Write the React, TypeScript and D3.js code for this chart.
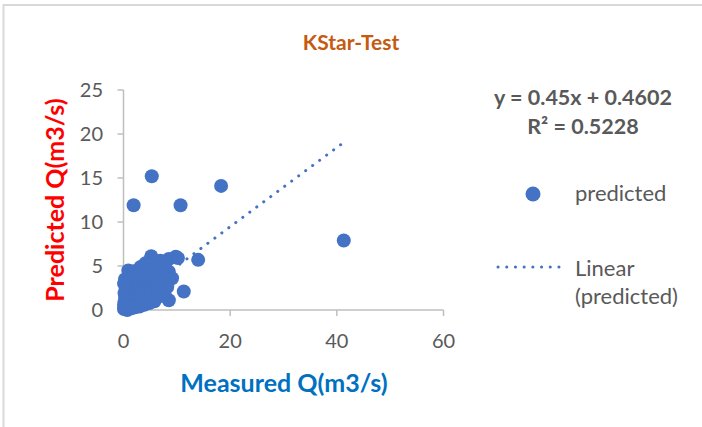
import React from 'react'
import * as d3 from 'd3'

const measured = [
  0.1, 0.2, 0.3, 0.4, 0.5, 0.6, 0.8, 1.0, 0.2, 0.3, 0.5, 0.7, 0.9, 1.2, 1.4, 1.6, 1.8, 2.0, 2.1, 2.3,
  2.6, 2.8, 3.0, 3.2, 3.4, 3.6, 3.8, 4.0, 4.2, 4.4, 4.6, 4.8, 5.0, 5.2, 5.5, 5.8, 6.0, 6.3, 6.6, 7.0,
  7.3, 7.6, 0.6, 0.8, 1.0, 1.1, 1.5, 1.7, 2.0, 2.4, 2.7, 3.1, 3.5, 3.9, 4.3, 4.7, 0.9, 3.2, 5.2, 5.6,
  6.2, 6.8, 7.4, 8.5, 9.8, 8.5, 9.1, 8.2, 7.8, 8.5, 6.5, 5.8, 4.9, 3.9, 3.0, 2.2, 1.5, 0.7, 0.1, 0.2,
  0.4, 0.1, 0.3, 1.3, 1.9, 2.9, 4.1, 4.5, 5.4, 6.1, 7.1, 10.2, 6.9, 7.9,
  5.3, 1.9, 10.7, 18.3, 41.3, 14.0, 11.3,
]
const predicted = [
  0.1, 0.3, 0.2, 0.5, 0.1, 0.4, 0.7, 0.3, 0.9, 1.4, 1.8, 1.1, 2.2, 0.6, 1.2, 0.8, 1.6, 0.9, 2.0, 1.3,
  2.4, 1.0, 1.7, 2.8, 1.4, 2.2, 3.1, 1.8, 2.6, 3.4, 1.5, 2.9, 3.8, 2.2, 3.3, 4.1, 2.6, 3.6, 4.4, 3.0,
  2.1, 3.9, 2.7, 3.2, 3.7, 2.5, 3.0, 3.9, 3.4, 4.2, 3.6, 4.5, 3.9, 4.7, 4.1, 4.8, 4.5, 4.9, 6.1, 5.2,
  5.0, 5.1, 4.7, 5.8, 6.05, 4.35, 3.6, 2.6, 1.6, 1.1, 1.5, 1.0, 0.8, 0.6, 0.4, 0.3, 0.2, 0.0, 0.6, 1.9,
  2.4, 3.0, 3.5, 4.1, 4.4, 4.3, 5.3, 4.4, 4.6, 3.9, 4.2, 5.9, 5.6, 5.4,
  15.2, 11.9, 11.9, 14.1, 7.9, 5.7, 2.1,
]

const xTicks = [0, 20, 40, 60]
const yTicks = [0, 5, 10, 15, 20, 25]
const slope = 0.45
const intercept = 0.4602

const W = 702
const H = 427
const blue = '#4472C4'
const grey = '#595959'
const font = 'Lato, "Open Sans", sans-serif'

const App = () => {
  const x = d3.scaleLinear().domain([0, 60]).range([123.5, 443.5])
  const y = d3.scaleLinear().domain([0, 25]).range([310, 90])

  const points = measured.map((m, i) => ({ m, p: predicted[i] }))
  const xMin = d3.min(measured)
  const xMax = d3.max(measured)
  const trend = d3.line<number>()
    .x((d) => x(d))
    .y((d) => y(slope * d + intercept))([xMin, xMax])

  return (
    <svg width={W} height={H} style={{ position: 'absolute', left: 0, top: 0 }} fontFamily={font}>
      <rect x={0} y={0} width={W} height={H} fill="#fff" />
      <rect x={3.5} y={5} width={W + 10} height={H + 10} fill="none" stroke="#d9d9d9" strokeWidth={2} />

      <text x={351} y={50} textAnchor="middle" fontSize={21} fontWeight="bold" fill="#C55A11">
        KStar-Test
      </text>

      {/* axes */}
      <line x1={x(0)} x2={x(0)} y1={y(25)} y2={y(0)} stroke="#bfbfbf" strokeWidth={1.5} />
      <line x1={x(0)} x2={x(60)} y1={y(0)} y2={y(0)} stroke="#bfbfbf" strokeWidth={1.5} />
      {yTicks.map((t) => (
        <g key={'y' + t}>
          <line x1={x(0) - 6} x2={x(0)} y1={y(t)} y2={y(t)} stroke="#bfbfbf" strokeWidth={1.5} />
          <text x={103} y={y(t)} dy="0.35em" textAnchor="end" fontSize={20} fill={grey}>
            {t}
          </text>
        </g>
      ))}
      {xTicks.map((t) => (
        <g key={'x' + t}>
          <line x1={x(t)} x2={x(t)} y1={y(0)} y2={y(0) + 6} stroke="#bfbfbf" strokeWidth={1.5} />
          <text x={x(t)} y={348} textAnchor="middle" fontSize={20} fill={grey}>
            {t}
          </text>
        </g>
      ))}

      {/* points */}
      {points.map((d, i) => (
        <circle key={i} cx={x(d.m)} cy={y(d.p)} r={7} fill={blue} />
      ))}

      {/* linear trendline */}
      <path d={trend} fill="none" stroke={blue} strokeWidth={3} strokeLinecap="round" strokeDasharray="0.1 8.6" />

      <text x={284} y={392} textAnchor="middle" fontSize={25} fontWeight="bold" fill="#0070C0">
        Measured Q(m3/s)
      </text>
      <text transform="translate(64,200) rotate(-90)" textAnchor="middle" fontSize={25} fontWeight="bold" fill="#FF0000">
        Predicted Q(m3/s)
      </text>

      {/* equation */}
      <text x={583} y={105} textAnchor="middle" fontSize={21.5} fontWeight="bold" fill={grey}>
        y = 0.45x + 0.4602
      </text>
      <text x={583} y={134} textAnchor="middle" fontSize={21.5} fontWeight="bold" fill={grey}>
        R² = 0.5228
      </text>

      {/* legend */}
      <circle cx={533} cy={194} r={7.5} fill={blue} />
      <text x={575} y={201} fontSize={22} fill={grey}>predicted</text>
      <line x1={498} x2={562} y1={267} y2={267} stroke={blue} strokeWidth={3} strokeLinecap="round" strokeDasharray="0.1 8.6" />
      <text x={575} y={276} fontSize={22} fill={grey}>Linear</text>
      <text x={575} y={304} fontSize={22} fill={grey}>(predicted)</text>
    </svg>
  )
}

export default App
